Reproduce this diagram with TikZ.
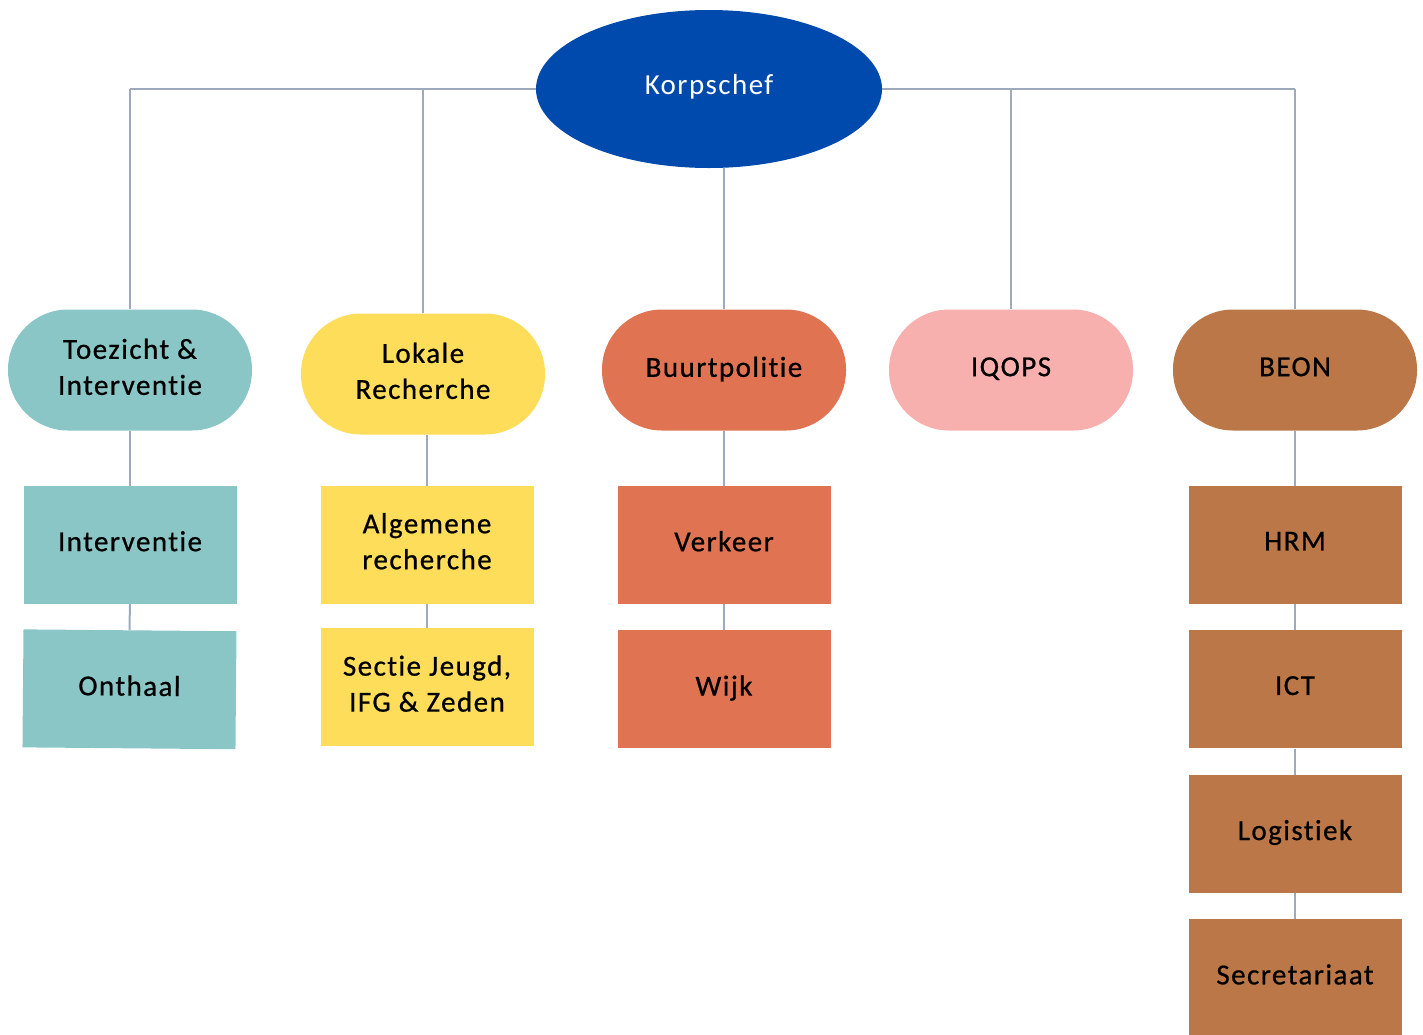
\documentclass[tikz,border=0pt]{standalone}
\usepackage{fontspec}
\setmainfont{Carlito}[LetterSpace=5,Ligatures=NoCommon,FakeBold=0.7]
\newfontfamily\chefletter{Carlito}[LetterSpace=5,Ligatures=NoCommon]
\usetikzlibrary{positioning}
\usetikzlibrary{shapes.geometric}

\definecolor{chefblue}{HTML}{004AAD}
\definecolor{teal}{HTML}{8BC6C6}
\definecolor{geel}{HTML}{FEDD5A}
\definecolor{oranje}{HTML}{E07352}
\definecolor{roze}{HTML}{F7B0AE}
\definecolor{bruin}{HTML}{BB7747}
\definecolor{lijn}{HTML}{9DAABB}

\tikzset{
    dienst/.style={rectangle,rounded corners=60pt,minimum width=244pt,minimum height=121pt,
        align=center,text depth=0.65em,font=\fontsize{29}{36}\selectfont},
    afdeling/.style={rectangle,minimum width=213pt,minimum height=118pt,
        align=center,text depth=0.75em,font=\fontsize{29}{36}\selectfont},
    line/.style={draw=lijn,line width=2pt}
}

\begin{document}
\begin{tikzpicture}[x=1pt,y=-1pt,node distance=26pt]
    \useasboundingbox (0,0) rectangle (1423,1034);
    \node [ellipse,fill=chefblue,minimum width=346pt,minimum height=158pt,text depth=0.85em,
        text=white,font=\chefletter\fontsize{29}{36}\selectfont] (chef) at (709,89) {Korpschef};

    \node [dienst,fill=teal] (toez) at (130,370) {Toezicht \&\\Interventie};
    \node [dienst,fill=geel] (lokale) at (423,374) {Lokale\\Recherche};
    \node [dienst,fill=oranje] (buurt) at (724,370) {Buurtpolitie};
    \node [dienst,fill=roze] (iqops) at (1011,370) {IQOPS};
    \node [dienst,fill=bruin] (beon) at (1295,370) {BEON};

    \node [afdeling,fill=teal] (interv) [below=55pt of toez] {Interventie};
    \node [afdeling,fill=teal,rotate=-0.5] (onthaal) [below=of interv] {Onthaal};
    \node [afdeling,fill=geel] (alg) [below=51pt of lokale,xshift=4pt] {Algemene\\recherche};
    \node [afdeling,fill=geel] (sectie) [below=24pt of alg] {Sectie Jeugd,\\IFG \& Zeden};
    \node [afdeling,fill=oranje] (verkeer) [below=55pt of buurt] {Verkeer};
    \node [afdeling,fill=oranje] (wijk) [below=of verkeer] {Wijk};
    \node [afdeling,fill=bruin] (hrm) [below=55pt of beon] {HRM};
    \node [afdeling,fill=bruin] (ict) [below=of hrm] {ICT};
    \node [afdeling,fill=bruin] (logistiek) [below=of ict] {Logistiek};
    \node [afdeling,fill=bruin] (secr) [below=of logistiek] {Secretariaat};

    \path [line]
        (chef.west) edge (chef.west -| toez)
        (chef.west -| toez) edge (toez)
        (chef.west -| lokale) edge (lokale)
        (chef.south -| buurt) edge (buurt)
        (chef.east) edge (chef.east -| beon)
        (chef.east -| iqops) edge (iqops)
        (chef.east -| beon) edge (beon)
        (toez) edge (interv)
        (interv) edge (onthaal)
        (alg.north |- lokale.south) edge (alg)
        (alg) edge (sectie)
        (buurt) edge (verkeer)
        (verkeer) edge (wijk)
        (beon) edge (hrm)
        (hrm) edge (ict)
        (ict) edge (logistiek)
        (logistiek) edge (secr);
\end{tikzpicture}
\end{document}
